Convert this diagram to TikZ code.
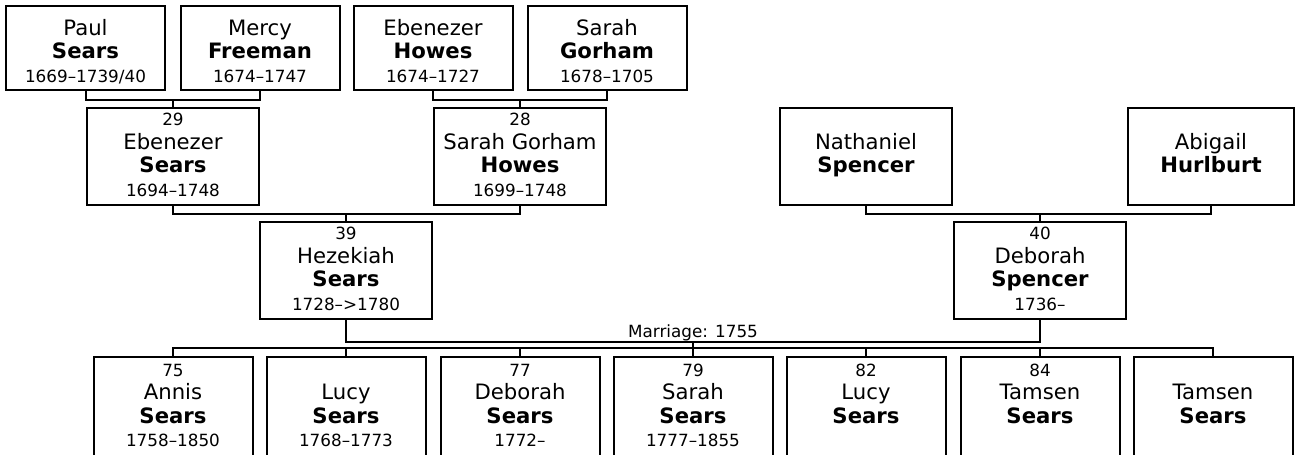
\documentclass[tikz,border=0pt]{standalone}
\usepackage{fontspec}
\setmainfont{DejaVu Sans}
\usepackage{tikz}
\usetikzlibrary{positioning}
\usetikzlibrary{calc}

\newcommand{\bigf}{\fontsize{15.9pt}{17.6pt}\selectfont}
\newcommand{\smallf}{\fontsize{12.6pt}{17.6pt}\selectfont}
% number / first name / surname / dates
\newcommand{\card}[4]{{\smallf\strut#1}\\{\bigf\strut#2}\\{\bigf\bfseries\strut#3}\\{\smallf\strut#4}}
\newcommand{\topcard}[3]{\rule{0pt}{3.6pt}\\{\bigf\strut#1}\\{\bigf\bfseries\strut#2}\\{\smallf\strut#3}}

\begin{document}
\begin{tikzpicture}[x=0.75pt, y=-0.75pt,
    box/.style={draw, line width=1.5pt, align=center, inner sep=0pt, font=\bigf},
    oldbox/.style={box, minimum width=119.25pt, minimum height=63pt},
    midbox/.style={box, minimum width=129pt, minimum height=72.75pt},
    kidbox/.style={box, minimum width=119.25pt, minimum height=75pt},
    link/.style={line width=1.5pt}]
            \useasboundingbox (0,0) rectangle (1297,454);

            % great-grandparents
            \node[oldbox] (paul)  at (85.5,48) {\topcard{Paul}{Sears}{1669–1739/40}};
            \node[oldbox] (mercy) at (260,48)  {\topcard{Mercy}{Freeman}{1674–1747}};
            \node[oldbox] (ebh)   at (433,48)  {\topcard{Ebenezer}{Howes}{1674–1727}};
            \node[oldbox] (sarg)  at (607,48)  {\topcard{Sarah}{Gorham}{1678–1705}};

            % grandparents
            \node[midbox] (ebs) at (173,156.5) {\card{29}{Ebenezer}{Sears}{1694–1748}};
            \node[midbox] (sgh) at (520,156.5) {\card{28}{Sarah Gorham}{Howes}{1699–1748}};
            \node[midbox] (nat) at (866,156.5) {\card{}{Nathaniel}{Spencer}{}};
            \node[midbox, minimum width=124.5pt] (abi) at (1211,156.5) {\card{}{Abigail}{Hurlburt}{}};

            % parents
            \node[midbox] (hez) at (346,270.5)  {\card{39}{Hezekiah}{Sears}{1728–>1780}};
            \node[midbox] (deb) at (1040,270.5) {\card{40}{Deborah}{Spencer}{1736–}};

            % children
            \node[kidbox] (annis) at (173,407)  {\card{75}{Annis}{Sears}{1758–1850}};
            \node[kidbox] (lucy)  at (346,407)  {\card{}{Lucy}{Sears}{1768–1773}};
            \node[kidbox] (debs)  at (520,407)  {\card{77}{Deborah}{Sears}{1772–}};
            \node[kidbox] (sarah) at (693,407)  {\card{79}{Sarah}{Sears}{1777–1855}};
            \node[kidbox] (lucy2) at (866,407)  {\card{82}{Lucy}{Sears}{}};
            \node[kidbox] (tam)   at (1040,407) {\card{84}{Tamsen}{Sears}{}};
            \node[kidbox] (tam2)  at (1213,407) {\card{}{Tamsen}{Sears}{}};

            % couples of the top row
            \draw[link] (paul.south) -- ++(0,9) coordinate (pm) -| (mercy.south);
            \draw[link] (pm -| ebs.north) -- (ebs.north);
            \draw[link] (ebh.south) -- ++(0,9) coordinate (eg) -| (sarg.south);
            \draw[link] (eg -| sgh.north) -- (sgh.north);

            % couples of the middle row
            \draw[link] (ebs.south) -- ++(0,8) coordinate (es) -| (sgh.south);
            \draw[link] (es -| hez.north) -- (hez.north);
            \draw[link] (nat.south) -- ++(0,8) coordinate (na) -| (abi.south);
            \draw[link] (na -| deb.north) -- (deb.north);

            % marriage and children
            \draw[link] (hez.south) -- ++(0,22) coordinate (hd) -| (deb.south);
            \node[font=\smallf, anchor=south, inner sep=0.5pt] (wed) at (hd -| sarah.north) {Marriage: 1755};
            \draw[link] (hd -| sarah.north) -- ++(0,8);
            \draw[link] (annis.north) -- ++(0,-8) -| (tam2.north);
            \foreach \k in {lucy,debs,sarah,lucy2,tam}
                \draw[link] (\k.north) -- ++(0,-8);
\end{tikzpicture}
\end{document}
